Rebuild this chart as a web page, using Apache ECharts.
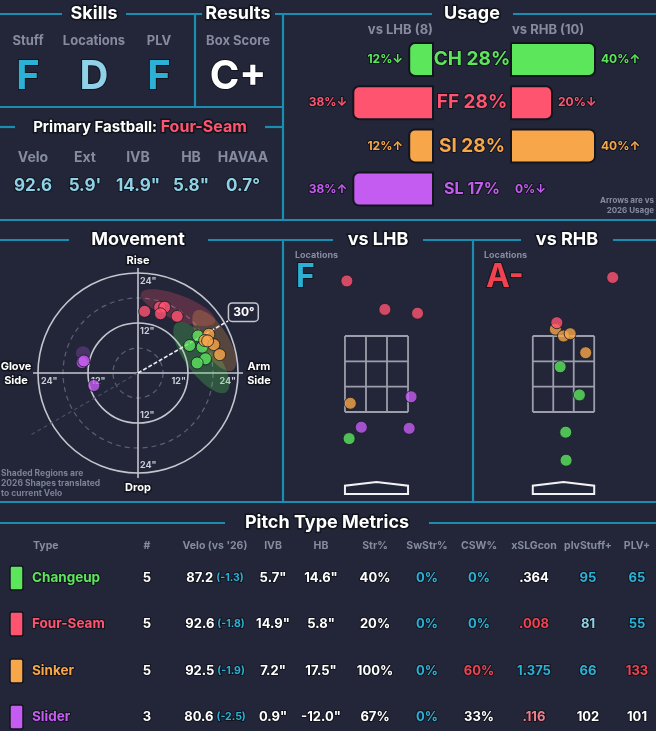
<!DOCTYPE html>
<html>
<head>
<meta charset="utf-8">
<script src="https://cdn.jsdelivr.net/npm/echarts@6.0.0/dist/echarts.min.js"></script>
<style>
html,body{margin:0;padding:0;background:#222638;overflow:hidden;}
#chart{width:656px;height:731px;}
</style>
</head>
<body>
<div id="chart"></div>
<script>
// ================= DATA =================
const pitchTypes = ['CH', 'FF', 'SI', 'SL'];
const pitchNames = ['Changeup', 'Four-Seam', 'Sinker', 'Slider'];
const usageAll = [28, 28, 28, 17];
const usageLHB = [12, 38, 12, 38];
const usageRHB = [40, 20, 40, 0];
const trendLHB = ['down', 'down', 'up', 'up'];
const trendRHB = ['up', 'down', 'up', 'down'];
const batterCounts = [8, 10];

const skillLabels = ['Stuff', 'Locations', 'PLV'];
const skillGrades = ['F', 'D', 'F'];
const resultLabel = 'Box Score';
const resultGrade = 'C+';
const locationGrades = ['F', 'A-'];

const fbName = 'Four-Seam';
const fbLabels = ['Velo', 'Ext', 'IVB', 'HB', 'HAVAA'];
const fbValues = ['92.6', "5.9'", '14.9"', '5.8"', '0.7°'];

// Movement: [HB, IVB] in inches
const mvCH = [[14.4, 8.9], [12.4, 6.6], [15.4, 6.2], [16.2, 3.4], [14.2, 2.4]];
const mvFF = [[1.6, 14.8], [5.2, 15.8], [6.4, 15.8], [5.4, 14.2], [9.4, 13.6]];
const mvSI = [[17.0, 9.3], [16.0, 7.8], [18.2, 6.8], [19.6, 4.4], [16.7, 7.7]];
const mvSL = [[-13.4, 2.5], [-10.6, -3.0], [-13.0, 2.9]];
// 2026 shapes: [HB centre, IVB centre, semi-major, semi-minor, tilt deg]
const shapeCH = [15.2, 3.7, 10.2, 3.8, -54];
const shapeFF = [9.6, 15.7, 9.5, 3.0, -21];
const shapeSI = [18.3, 7.8, 8.4, 3.3, -58];
const shapeSL = [-13.2, 4.8, 1.7, 1.6, 0];
const movementRings = [6, 12, 18, 24];
const ringTickLabels = [12, 24];
const armAngle = 30;

// Locations: [plate_x, plate_z] in feet
const locL_CH = [[-0.72, 0.80]];
const locL_FF = [[-0.78, 4.95], [0.22, 4.20], [1.08, 4.10]];
const locL_SI = [[-0.69, 1.73]];
const locL_SL = [[0.91, 1.90], [-0.40, 1.10], [0.86, 1.07]];
const locR_CH = [[-0.09, 2.69], [0.43, 1.95], [0.06, 0.97], [0.07, 0.23]];
const locR_FF = [[1.33, 5.04], [-0.18, 3.85]];
const locR_SI = [[-0.22, 3.68], [0.00, 3.50], [0.18, 3.56], [0.60, 3.06]];
const locR_SL = [];
const zoneX = [-0.83, 0.83];
const zoneZ = [1.5, 3.5];
const plateOutline = [[-0.83, -0.66], [0.83, -0.66], [0.83, -0.44], [0, -0.34], [-0.83, -0.44]];

// Table
const tblHeaders = ['Type', '#', "Velo (vs '26)", 'IVB', 'HB', 'Str%', 'SwStr%', 'CSW%', 'xSLGcon', 'plvStuff+', 'PLV+'];
const tblCount = ['5', '5', '5', '3'];
const tblVelo = ['87.2', '92.6', '92.5', '80.6'];
const tblVeloDiff = ['-1.3', '-1.8', '-1.9', '-2.5'];
const tblIVB = ['5.7"', '14.9"', '7.2"', '0.9"'];
const tblHB = ['14.6"', '5.8"', '17.5"', '-12.0"'];
const tblStr = ['40%', '20%', '100%', '67%'];
const tblSwStr = ['0%', '0%', '0%', '0%'];
const tblCSW = ['0%', '0%', '60%', '33%'];
const tblXSLG = ['.364', '.008', '1.375', '.116'];
const tblStuff = ['95', '81', '66', '102'];
const tblPLV = ['65', '55', '133', '101'];

// ================= STYLE =================
const FONT = 'Inter, "DejaVu Sans", sans-serif';
const BG = '#222638';
const LINE = '#1a8db1';
const GREY = '#868ba0';
const OUT = '#13151e';
const pitchColors = ['#5ce65c', '#ff5470', '#f7a64a', '#c55cf2'];
const CYAN = '#2cb0d6', LCYAN = '#8fd2e7', RED = '#f2424f', LRED = '#f27c8a', WHITE = '#ffffff';
const tone = {c: CYAN, lc: LCYAN, r: RED, lr: LRED, w: WHITE};
const toneStr = ['w', 'w', 'w', 'w'];
const toneSwStr = ['c', 'c', 'c', 'c'];
const toneCSW = ['c', 'c', 'r', 'w'];
const toneXSLG = ['w', 'r', 'c', 'lr'];
const toneStuff = ['c', 'lc', 'c', 'w'];
const tonePLV = ['c', 'c', 'r', 'w'];
function gradeColor(g) {
  const l = g[0];
  return l === 'A' ? RED : l === 'B' ? LRED : l === 'C' ? WHITE : l === 'D' ? LCYAN : CYAN;
}
function rgba(hex, a) {
  const n = parseInt(hex.slice(1), 16);
  return 'rgba(' + (n >> 16 & 255) + ',' + (n >> 8 & 255) + ',' + (n & 255) + ',' + a + ')';
}
const arrow = t => t === 'up' ? '↑' : '↓';

function txt(x, y, text, size, fill, align, extra) {
  align = align || 'center';
  return {
    type: 'text', x: x, y: y, silent: true, z: 10,
    style: Object.assign({
      text: String(text), fontSize: size, fontWeight: 'bold', fontFamily: FONT, fill: fill,
      align: align, textAlign: align, verticalAlign: 'middle', textVerticalAlign: 'middle'
    }, extra || {})
  };
}
const outline = {stroke: OUT, lineWidth: 3};

// ================= LAYOUT (frame) =================
const frameLines = [
  [0, 14, 62, 14], [126, 14, 202, 14], [275, 14, 432, 14], [513, 14, 656, 14],
  [195, 14, 195, 107], [283, 14, 283, 220],
  [0, 107, 283, 107],
  [0, 127, 15, 127], [265, 127, 283, 127],
  [0, 220, 656, 220],
  [0, 240, 69, 240], [208, 240, 333, 240], [423, 240, 521, 240], [613, 240, 656, 240],
  [283, 240, 283, 502], [473, 240, 473, 502],
  [0, 502, 656, 502],
  [0, 523, 225, 523], [429, 523, 656, 523]
];

const elements = [];
frameLines.forEach(l => elements.push({
  type: 'line', silent: true, z: 5,
  shape: {x1: l[0], y1: l[1], x2: l[2], y2: l[3]},
  style: {stroke: LINE, lineWidth: 2.2}
}));

// Titles
[['Skills', 94, 14], ['Results', 238, 14], ['Usage', 472, 14], ['Movement', 138, 240],
 ['vs LHB', 378, 240], ['vs RHB', 567, 240], ['Pitch Type Metrics', 327, 523]].forEach(t =>
  elements.push(txt(t[1], t[2], t[0], 18, WHITE, 'center', outline)));

// Skills
const skillX = [28, 94, 159];
skillLabels.forEach((s, i) => {
  elements.push(txt(skillX[i], 41, s, 13, GREY));
  elements.push(txt(skillX[i], 77, skillGrades[i], 40, gradeColor(skillGrades[i]), 'center', {stroke: OUT, lineWidth: 2}));
});
elements.push(txt(238, 41, resultLabel, 13, GREY));
elements.push(txt(238, 77, resultGrade, 40, gradeColor(resultGrade), 'center', {stroke: OUT, lineWidth: 2}));

// Primary fastball
elements.push({
  type: 'text', x: 140, y: 127, silent: true, z: 10,
  style: {
    text: '{a|Primary Fastball: }{b|' + fbName + '}',
    align: 'center', textAlign: 'center', verticalAlign: 'middle', textVerticalAlign: 'middle',
    rich: {
      a: {fontSize: 15, fontWeight: 'bold', fontFamily: FONT, fill: WHITE, stroke: OUT, lineWidth: 3},
      b: {fontSize: 16, fontWeight: 'bold', fontFamily: FONT, fill: pitchColors[1], stroke: OUT, lineWidth: 3}
    }
  }
});
const fbX = [33, 85, 138, 191, 243];
fbLabels.forEach((s, i) => {
  elements.push(txt(fbX[i], 158, s, 14, GREY));
  elements.push(txt(fbX[i], 186, fbValues[i], 17, LCYAN, 'center', {stroke: OUT, lineWidth: 2}));
});

// Usage captions
elements.push(txt(433, 30, 'vs LHB (' + batterCounts[0] + ')', 13, GREY, 'right'));
elements.push(txt(512, 30, 'vs RHB (' + batterCounts[1] + ')', 13, GREY, 'left'));
const usageTop = 37.9, usageRow = 43.2;
pitchTypes.forEach((p, i) => {
  elements.push(txt(472, usageTop + (i + 0.5) * usageRow, p + ' ' + usageAll[i] + '%',
    Math.round(11 + usageAll[i] * 0.28), pitchColors[i], 'center', {stroke: OUT, lineWidth: 2}));
});
elements.push(txt(654, 201, 'Arrows are vs', 8, GREY, 'right'));
elements.push(txt(654, 211, '2026 Usage', 8, GREY, 'right'));

// Movement captions
elements.push(txt(138, 261, 'Rise', 11, WHITE, 'center', outline));
elements.push(txt(138, 488, 'Drop', 11, WHITE, 'center', outline));
elements.push(txt(16, 367, 'Glove', 11, WHITE, 'center', outline));
elements.push(txt(16, 381, 'Side', 11, WHITE, 'center', outline));
elements.push(txt(259, 367, 'Arm', 11, WHITE, 'center', outline));
elements.push(txt(259, 381, 'Side', 11, WHITE, 'center', outline));
['Shaded Regions are', '2026 Shapes translated', 'to current Velo'].forEach((s, i) =>
  elements.push(txt(1, 473 + i * 10, s, 8.5, '#7c8196', 'left')));

// Locations captions
elements.push(txt(295, 255, 'Locations', 9, GREY, 'left'));
elements.push(txt(296, 277, locationGrades[0], 32, gradeColor(locationGrades[0]), 'left', {stroke: OUT, lineWidth: 2}));
elements.push(txt(484, 255, 'Locations', 9, GREY, 'left'));
elements.push(txt(486, 277, locationGrades[1], 32, gradeColor(locationGrades[1]), 'left', {stroke: OUT, lineWidth: 2}));

// Table
const colX = [33, 147, 215, 273, 321, 375, 427, 479, 534, 588, 637];
tblHeaders.forEach((h, i) => elements.push(txt(colX[i], 546, h, 10.5, GREY, i === 0 ? 'left' : 'center')));
const rowY = [578, 624, 671, 717];
const tblOut = {stroke: OUT, lineWidth: 2};
pitchNames.forEach((n, r) => {
  const y = rowY[r];
  elements.push({type: 'rect', silent: true, z: 9, shape: {x: 10, y: y - 12, width: 13, height: 24, r: 2},
    style: {fill: pitchColors[r], stroke: OUT, lineWidth: 1.5}});
  elements.push(txt(32, y, n, 13.5, pitchColors[r], 'left', tblOut));
  elements.push(txt(colX[1], y, tblCount[r], 13, WHITE, 'center', tblOut));
  elements.push({
    type: 'text', x: colX[2], y: y, silent: true, z: 10,
    style: {
      text: '{v|' + tblVelo[r] + '}{d|(' + tblVeloDiff[r] + ')}',
      align: 'center', textAlign: 'center', verticalAlign: 'middle', textVerticalAlign: 'middle',
      rich: {
        v: {fontSize: 13, fontWeight: 'bold', fontFamily: FONT, fill: WHITE, stroke: OUT, lineWidth: 2},
        d: {fontSize: 10.5, fontWeight: 'bold', fontFamily: FONT, fill: CYAN, stroke: OUT, lineWidth: 2, padding: [0, 0, 0, 3]}
      }
    }
  });
  elements.push(txt(colX[3], y, tblIVB[r], 13, WHITE, 'center', tblOut));
  elements.push(txt(colX[4], y, tblHB[r], 13, WHITE, 'center', tblOut));
  elements.push(txt(colX[5], y, tblStr[r], 13, tone[toneStr[r]], 'center', tblOut));
  elements.push(txt(colX[6], y, tblSwStr[r], 13, tone[toneSwStr[r]], 'center', tblOut));
  elements.push(txt(colX[7], y, tblCSW[r], 13, tone[toneCSW[r]], 'center', tblOut));
  elements.push(txt(colX[8], y, tblXSLG[r], 13, tone[toneXSLG[r]], 'center', tblOut));
  elements.push(txt(colX[9], y, tblStuff[r], 13, tone[toneStuff[r]], 'center', tblOut));
  elements.push(txt(colX[10], y, tblPLV[r], 13, tone[tonePLV[r]], 'center', tblOut));
});

// ================= SERIES =================
const series = [];
const barBorder = {borderColor: OUT, borderWidth: 2};
series.push({
  type: 'bar', xAxisIndex: 0, yAxisIndex: 0, barWidth: 35, silent: true,
  data: usageLHB.map((v, i) => ({
    value: v,
    itemStyle: Object.assign({color: pitchColors[i], borderRadius: [6, 0, 0, 6]}, barBorder),
    label: {color: pitchColors[i]}
  })),
  label: {show: true, position: 'left', distance: 5, fontSize: 12, fontWeight: 'bold', fontFamily: FONT,
    textBorderColor: OUT, textBorderWidth: 2,
    formatter: p => p.value + '%' + arrow(trendLHB[p.dataIndex])}
});
series.push({
  type: 'bar', xAxisIndex: 1, yAxisIndex: 1, barWidth: 35, silent: true,
  data: usageRHB.map((v, i) => ({
    value: v,
    itemStyle: Object.assign({color: pitchColors[i], borderRadius: [0, 6, 6, 0]}, v === 0 ? {borderWidth: 0} : barBorder),
    label: {color: pitchColors[i]}
  })),
  label: {show: true, position: 'right', distance: 5, fontSize: 12, fontWeight: 'bold', fontFamily: FONT,
    textBorderColor: OUT, textBorderWidth: 2,
    formatter: p => p.value + '%' + arrow(trendRHB[p.dataIndex])}
});

// Movement background: rings, cross, tick labels
series.push({
  type: 'custom', xAxisIndex: 2, yAxisIndex: 2, data: [[0, 0]], silent: true, z: 1,
  renderItem: (params, api) => {
    const c = api.coord([0, 0]);
    const ch = [];
    movementRings.forEach(r => {
      const rp = api.size([r, 0])[0];
      const major = r % 12 === 0;
      ch.push({type: 'circle', shape: {cx: c[0], cy: c[1], r: rp},
        style: {fill: 'none', stroke: major ? '#c4c6cf' : '#5c6073', lineWidth: major ? 1.6 : 1.2, lineDash: major ? null : [5, 4]}});
    });
    const ext = 25.2;
    const h1 = api.coord([-ext, 0]), h2 = api.coord([ext, 0]);
    const v1 = api.coord([0, ext]), v2 = api.coord([0, -ext]);
    ch.push({type: 'line', shape: {x1: h1[0], y1: h1[1], x2: h2[0], y2: h2[1]}, style: {stroke: '#c4c6cf', lineWidth: 1.6}});
    ch.push({type: 'line', shape: {x1: v1[0], y1: v1[1], x2: v2[0], y2: v2[1]}, style: {stroke: '#c4c6cf', lineWidth: 1.6}});
    ringTickLabels.forEach(r => {
      const p = api.size([r, 0])[0];
      const base = {text: r + '"', fontSize: 9, fontWeight: 'bold', fontFamily: FONT, fill: '#c9cbd4'};
      const mk = (x, y, al, va) => ({type: 'text', x: x, y: y,
        style: Object.assign({}, base, {align: al, textAlign: al, verticalAlign: va, textVerticalAlign: va})});
      ch.push(mk(c[0] + 2, c[1] - p + 4, 'left', 'top'));
      ch.push(mk(c[0] + 2, c[1] + p - 3, 'left', 'bottom'));
      ch.push(mk(c[0] - p + 3, c[1] + 4, 'left', 'top'));
      ch.push(mk(c[0] + p - 2, c[1] + 4, 'right', 'top'));
    });
    return {type: 'group', children: ch};
  }
});

// 2026 shapes
const shapes = [shapeCH, shapeFF, shapeSI, shapeSL];
series.push({
  type: 'custom', xAxisIndex: 2, yAxisIndex: 2, silent: true, z: 2,
  data: shapes.map((s, i) => s.concat([i])),
  renderItem: (params, api) => {
    const cx = api.value(0), cy = api.value(1), a = api.value(2), b = api.value(3);
    const th = api.value(4) * Math.PI / 180, idx = api.value(5);
    const pts = [];
    for (let k = 0; k < 72; k++) {
      const t = k / 72 * Math.PI * 2;
      const x = cx + a * Math.cos(t) * Math.cos(th) - b * Math.sin(t) * Math.sin(th);
      const y = cy + a * Math.cos(t) * Math.sin(th) + b * Math.sin(t) * Math.cos(th);
      pts.push(api.coord([x, y]));
    }
    return {type: 'polygon', shape: {points: pts}, style: {fill: rgba(pitchColors[idx], 0.25), stroke: 'none'}};
  }
});

// Arm angle line + badge
series.push({
  type: 'custom', xAxisIndex: 2, yAxisIndex: 2, data: [[armAngle]], silent: true, z: 3,
  renderItem: (params, api) => {
    const ang = api.value(0) * Math.PI / 180;
    const c = api.coord([0, 0]);
    const e = api.coord([25 * Math.cos(ang), 25 * Math.sin(ang)]);
    const o = api.coord([-29.5 * Math.cos(ang), -29.5 * Math.sin(ang)]);
    const bp = api.coord([29.2 * Math.cos(ang), 29.2 * Math.sin(ang)]);
    return {type: 'group', children: [
      {type: 'line', shape: {x1: c[0], y1: c[1], x2: o[0], y2: o[1]}, style: {stroke: '#4a4e62', lineWidth: 1.2, lineDash: [4, 3]}},
      {type: 'line', shape: {x1: c[0], y1: c[1], x2: e[0], y2: e[1]}, style: {stroke: '#e8e8ee', lineWidth: 1.6, lineDash: [4, 2]}},
      {type: 'text', x: bp[0], y: bp[1], style: {text: api.value(0) + '°', fontSize: 12, fontWeight: 'bold', fontFamily: FONT,
        fill: WHITE, align: 'center', textAlign: 'center', verticalAlign: 'middle', textVerticalAlign: 'middle',
        backgroundColor: BG, borderColor: '#c4c6cf', borderWidth: 1.5, borderRadius: 3, padding: [3, 3, 2, 4]}}
    ]};
  }
});

const dotStyle = i => ({color: pitchColors[i], borderColor: '#181a25', borderWidth: 1});
const DOT = 12;
const order = [0, 2, 3, 1];
const mvSets = [mvCH, mvFF, mvSI, mvSL];
order.forEach(i => series.push({type: 'scatter', xAxisIndex: 2, yAxisIndex: 2, data: mvSets[i],
  symbolSize: DOT, itemStyle: dotStyle(i), z: 5, silent: true}));

// Strike zone + plate
function zoneSeries(ax) {
  return {
    type: 'custom', xAxisIndex: ax, yAxisIndex: ax, data: [[0, 0]], silent: true, z: 2,
    renderItem: (params, api) => {
      const ch = [];
      const st = {stroke: '#9c9eab', lineWidth: 1.8};
      for (let i = 0; i <= 3; i++) {
        const x = zoneX[0] + (zoneX[1] - zoneX[0]) * i / 3;
        const p1 = api.coord([x, zoneZ[0]]), p2 = api.coord([x, zoneZ[1]]);
        ch.push({type: 'line', shape: {x1: p1[0], y1: p1[1], x2: p2[0], y2: p2[1]}, style: st});
        const z = zoneZ[0] + (zoneZ[1] - zoneZ[0]) * i / 3;
        const q1 = api.coord([zoneX[0], z]), q2 = api.coord([zoneX[1], z]);
        ch.push({type: 'line', shape: {x1: q1[0], y1: q1[1], x2: q2[0], y2: q2[1]}, style: st});
      }
      ch.push({type: 'polygon', shape: {points: plateOutline.map(p => api.coord(p))},
        style: {fill: 'none', stroke: '#f2f2f5', lineWidth: 2}});
      return {type: 'group', children: ch};
    }
  };
}
series.push(zoneSeries(3));
series.push(zoneSeries(4));
const locL = [locL_CH, locL_FF, locL_SI, locL_SL];
const locR = [locR_CH, locR_FF, locR_SI, locR_SL];
order.forEach(i => {
  series.push({type: 'scatter', xAxisIndex: 3, yAxisIndex: 3, data: locL[i], symbolSize: DOT, itemStyle: dotStyle(i), z: 5, silent: true});
  series.push({type: 'scatter', xAxisIndex: 4, yAxisIndex: 4, data: locR[i], symbolSize: DOT, itemStyle: dotStyle(i), z: 5, silent: true});
});

// ================= OPTION =================
const hidden = {show: false, splitLine: {show: false}, axisLine: {show: false}, axisTick: {show: false}, axisLabel: {show: false}};
const option = {
  backgroundColor: BG,
  animation: false,
  grid: [
    {left: 326.5, width: 107.5, top: usageTop, height: usageRow * 4},
    {left: 510, width: 107.5, top: usageTop, height: usageRow * 4},
    {left: 13, width: 250, top: 248, height: 250},
    {left: 281.5, width: 190, top: 260, height: 239.4},
    {left: 471, width: 190, top: 260, height: 239.4}
  ],
  xAxis: [
    Object.assign({gridIndex: 0, type: 'value', min: 0, max: 50, inverse: true}, hidden),
    Object.assign({gridIndex: 1, type: 'value', min: 0, max: 50}, hidden),
    Object.assign({gridIndex: 2, type: 'value', min: -30, max: 30}, hidden),
    Object.assign({gridIndex: 3, type: 'value', min: -2.5, max: 2.5}, hidden),
    Object.assign({gridIndex: 4, type: 'value', min: -2.5, max: 2.5}, hidden)
  ],
  yAxis: [
    Object.assign({gridIndex: 0, type: 'category', data: pitchTypes, inverse: true}, hidden),
    Object.assign({gridIndex: 1, type: 'category', data: pitchTypes, inverse: true}, hidden),
    Object.assign({gridIndex: 2, type: 'value', min: -30, max: 30}, hidden),
    Object.assign({gridIndex: 3, type: 'value', min: -0.8, max: 5.5}, hidden),
    Object.assign({gridIndex: 4, type: 'value', min: -0.8, max: 5.5}, hidden)
  ],
  series: series,
  graphic: {elements: elements}
};
const chart = echarts.init(document.getElementById('chart'), null, {renderer: 'canvas', width: 656, height: 731});
chart.setOption(option);
</script>
</body>
</html>
